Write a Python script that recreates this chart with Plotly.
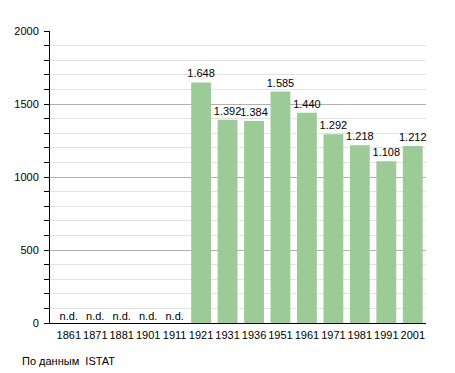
import plotly.graph_objects as go

years = ["1861", "1871", "1881", "1901", "1911", "1921", "1931", "1936", "1951", "1961", "1971", "1981", "1991", "2001"]
population = [None, None, None, None, None, 1648, 1392, 1384, 1585, 1440, 1292, 1218, 1108, 1212]
source_note = "По данным  ISTAT"

def fmt(v):
    return f"{v:,}".replace(",", ".")

bar_vals = [v if v is not None else 0 for v in population]
bar_text = [fmt(v) if v is not None else "" for v in population]
nd_x = [y for y, v in zip(years, population) if v is None]
nd_y = [0 for _ in nd_x]

fig = go.Figure()
fig.add_trace(go.Bar(
    x=years, y=bar_vals, text=bar_text, textposition="outside", constraintext="none",
    marker=dict(color="#9ccb98", line=dict(width=0)),
    textfont=dict(size=11, color="#000"), cliponaxis=False, hoverinfo="skip",
))
fig.add_trace(go.Scatter(
    x=nd_x, y=nd_y, mode="text", text=["n.d."] * len(nd_x),
    textposition="top center", textfont=dict(size=11, color="#000"), hoverinfo="skip",
))

fig.update_layout(
    width=447, height=365, autosize=False,
    margin=dict(l=42, r=29, t=23, b=50, autoexpand=False),
    paper_bgcolor="white", plot_bgcolor="white",
    showlegend=False, bargap=0.25,
    font=dict(family="Liberation Sans, Arial, sans-serif", size=11, color="#000"),
    xaxis=dict(type="category", showline=True, linecolor="#000", linewidth=1, automargin=False,
               ticks="", showgrid=False, tickangle=0, ticklabelstandoff=2, tickfont=dict(size=11)),
    yaxis=dict(range=[0, 2000], dtick=500, tick0=0, showline=True, linecolor="#000", linewidth=1,
               automargin=False, ticklabelstandoff=3,
               ticks="outside", ticklen=5, tickcolor="#000",
               gridcolor="#b0b0b0", gridwidth=1, zeroline=False,
               minor=dict(dtick=100, showgrid=True, gridcolor="#e3e3e3", ticks="outside", ticklen=5, tickcolor="#000"),
               tickfont=dict(size=11)),
    annotations=[dict(text=source_note, xref="paper", yref="paper", x=-0.08, y=-0.13,
                      xanchor="left", yanchor="middle", showarrow=False, font=dict(size=11))],
)

fig.write_html("out.html")
